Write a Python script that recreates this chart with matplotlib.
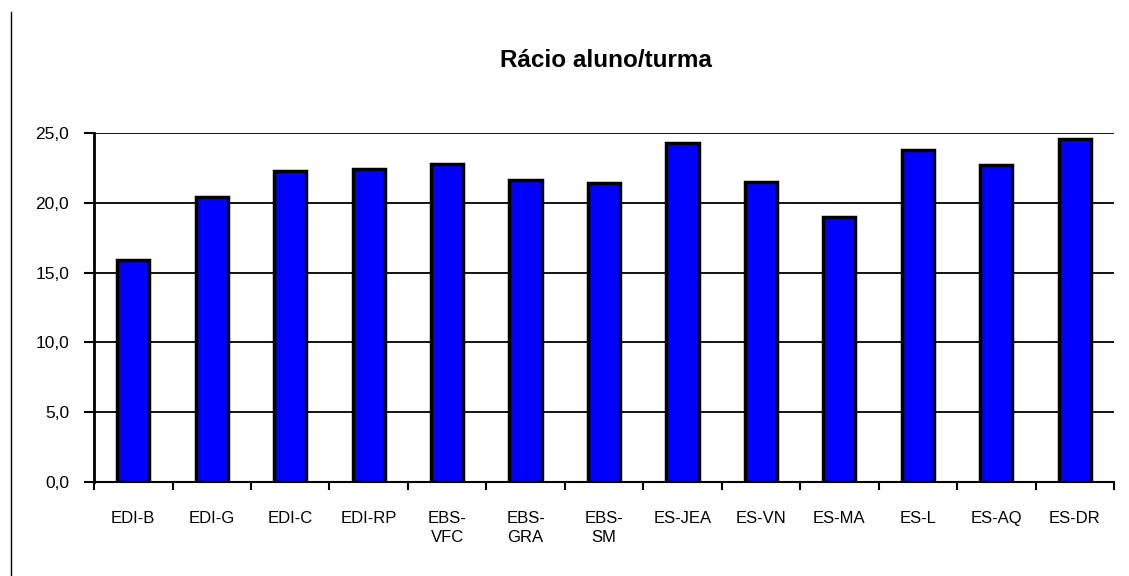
import numpy as np
import matplotlib
matplotlib.use("Agg")
from matplotlib import pyplot as plt
from matplotlib.lines import Line2D
from matplotlib.ticker import FuncFormatter

plt.rcParams['font.family'] = ['Liberation Sans', 'DejaVu Sans']

# Data
escolas = ['EDI-B', 'EDI-G', 'EDI-C', 'EDI-RP', 'EBS-\nVFC', 'EBS-\nGRA', 'EBS-\nSM',
           'ES-JEA', 'ES-VN', 'ES-MA', 'ES-L', 'ES-AQ', 'ES-DR']
racio = [15.9, 20.4, 22.3, 22.4, 22.8, 21.6, 21.4, 24.3, 21.5, 19.0, 23.8, 22.7, 24.6]
y_ticks = [0, 5, 10, 15, 20, 25]

fig = plt.figure(figsize=(11.29, 5.76), dpi=100)
ax = fig.add_axes([0.0833, 0.1632, 0.9034, 0.6059])

x = np.arange(len(escolas))
ax.bar(x, racio, width=0.41, color='#0000ff', edgecolor='black', linewidth=2.5, zorder=3)

ax.set_xlim(-0.5, len(escolas) - 0.5)
ax.set_ylim(0, 25)
ax.set_yticks(y_ticks)
ax.yaxis.set_major_formatter(FuncFormatter(lambda v, p: f"{v:.1f}".replace('.', ',')))
ax.grid(axis='y', color='black', linewidth=1.3, zorder=0)

# ticks between categories
ax.set_xticks(x)
ax.set_xticklabels(escolas, fontsize=12, linespacing=1.3)
ax.set_xticks(np.arange(len(escolas) + 1) - 0.5, minor=True)
ax.tick_params(axis='x', which='major', length=0, pad=21)
ax.tick_params(axis='x', which='minor', length=6, width=1.5, direction='out')
ax.tick_params(axis='y', length=7, width=1.5, pad=11, labelsize=12.5)

for s in ['top', 'right']:
    ax.spines[s].set_visible(False)
ax.spines['left'].set_linewidth(2)
ax.spines['bottom'].set_linewidth(1.5)

fig.suptitle('Rácio aluno/turma', x=0.537, y=0.915, fontsize=17.5, fontweight='bold')

# left border line
fig.add_artist(Line2D([11 / 1129, 11 / 1129], [0, 1 - 12 / 576], transform=fig.transFigure,
                      color='black', linewidth=1))

plt.savefig('out.png', dpi=100)
